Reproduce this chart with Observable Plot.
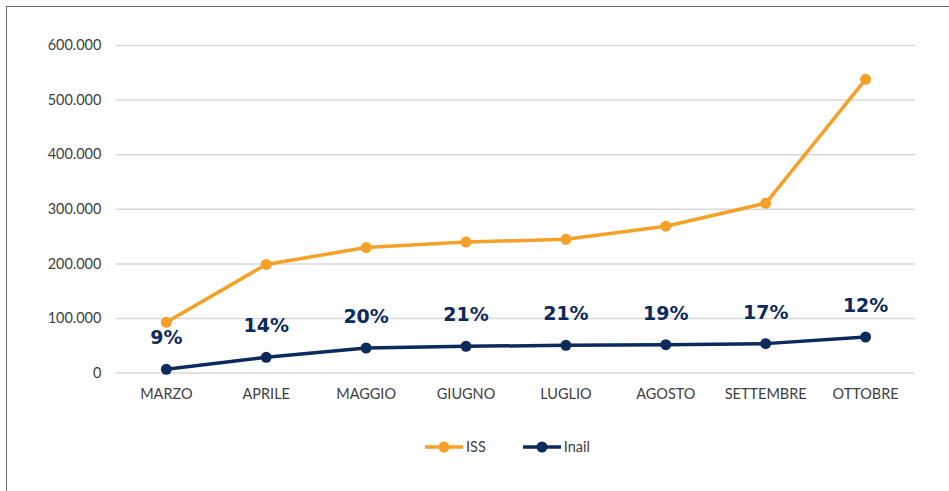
<!DOCTYPE html>
<html>
<head>
<meta charset="utf-8">
<script src="https://cdn.jsdelivr.net/npm/d3@7"></script>
<script src="https://cdn.jsdelivr.net/npm/@observablehq/plot@0.6"></script>
<style>
  html, body { margin: 0; padding: 0; background: #fff; }
  #frame {
    position: absolute; left: 6px; top: 6px; width: 943px; height: 485px;
    border-top: 1.5px solid #6b6b6b; border-left: 1.5px solid #6b6b6b;
    box-sizing: border-box;
  }
  #legend {
    position: absolute; left: 0; top: 431px; width: 1000px;
    display: flex; justify-content: center; gap: 36px;
    font-family: Lato, "Liberation Sans", sans-serif; font-size: 14.5px; color: #404040;
  }
  .item { display: flex; align-items: center; gap: 2px; }
</style>
</head>
<body>
<div id="frame">
  <div id="chart"></div>
  <div id="legend"></div>
</div>
<script>
const months = ["MARZO", "APRILE", "MAGGIO", "GIUGNO", "LUGLIO", "AGOSTO", "SETTEMBRE", "OTTOBRE"];
const iss = [93000, 199000, 230000, 240000, 245000, 269000, 311000, 538000];
const inail = [7000, 29000, 46000, 49000, 51000, 52000, 54000, 66000];
const pct = ["9%", "14%", "20%", "21%", "21%", "19%", "17%", "12%"];
const yTicks = [0, 100000, 200000, 300000, 400000, 500000, 600000];

const seriesNames = ["ISS", "Inail"];
const colors = ["#f5a127", "#0d2a5c"];

const rows = [];
months.forEach((m, i) => {
  rows.push({month: m, series: "ISS", value: iss[i]});
  rows.push({month: m, series: "Inail", value: inail[i]});
});
const labels = months.map((m, i) => ({month: m, value: inail[i], text: pct[i]}));

const it = d3.formatLocale({decimal: ",", thousands: ".", grouping: [3], currency: ["", "€"]});
const fmt = it.format(",d");

const chart = Plot.plot({
  width: 943,
  height: 412,
  marginTop: 38,
  marginLeft: 109,
  marginRight: 34,
  marginBottom: 46,
  style: {fontFamily: "Lato, 'Liberation Sans', sans-serif", fontSize: "14.5px", color: "#404040", background: "transparent"},
  x: {type: "point", domain: months, padding: 0.5, label: null},
  y: {domain: [0, 600000], ticks: yTicks, label: null},
  color: {domain: seriesNames, range: colors},
  marks: [
    Plot.gridY(yTicks, {stroke: "#d9d9d9", strokeOpacity: 1, strokeWidth: 1.5}),
    Plot.axisY(yTicks, {tickSize: 0, tickPadding: 15, tickFormat: fmt, fill: "#404040", fontSize: 14.5}),
    Plot.axisX({tickSize: 0, tickPadding: 16, fill: "#404040", fontSize: 14.5, label: null}),
    Plot.line(rows, {x: "month", y: "value", stroke: "series", z: "series", strokeWidth: 3.5, strokeLinejoin: "round"}),
    Plot.dot(rows, {x: "month", y: "value", fill: "series", r: 5.5}),
    Plot.text(labels, {x: "month", y: "value", text: "text", dy: -31, fill: "#0d2a5c",
      fontFamily: "'DejaVu Sans', Verdana, sans-serif", fontWeight: "bold", fontSize: 19})
  ]
});
document.getElementById("chart").append(chart);

const legend = document.getElementById("legend");
seriesNames.forEach((name, i) => {
  const item = document.createElement("div");
  item.className = "item";
  item.innerHTML = `<svg width="40" height="14"><line x1="1" x2="39" y1="7" y2="7" stroke="${colors[i]}" stroke-width="3.5"/><circle cx="20" cy="7" r="5.5" fill="${colors[i]}"/></svg><span>${name}</span>`;
  legend.append(item);
});
</script>
</body>
</html>
